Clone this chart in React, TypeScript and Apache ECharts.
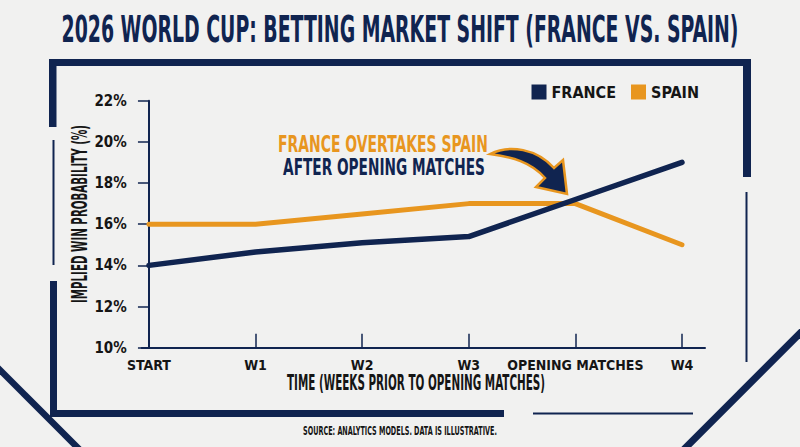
import React, { useEffect, useRef } from "react";
import * as echarts from "echarts";

// ---- data ----
const categories = ["START", "W1", "W2", "W3", "OPENING MATCHES", "W4"];
const franceValues = [14, 14.65, 15.1, 15.4, 17.2, 19];
const spainValues = [16, 16, 16.5, 17, 17, 15];
const yMin = 10;
const yMax = 22;
const yStep = 2;

const TITLE = "2026 WORLD CUP: BETTING MARKET SHIFT (FRANCE VS. SPAIN)";
const Y_TITLE = "IMPLIED WIN PROBABILITY (%)";
const X_TITLE = "TIME (WEEKS PRIOR TO OPENING MATCHES)";
const NOTE_1 = "FRANCE OVERTAKES SPAIN";
const NOTE_2 = "AFTER OPENING MATCHES";
const SOURCE = "SOURCE: ANALYTICS MODELS. DATA IS ILLUSTRATIVE.";

const NAVY = "#102450";
const ORANGE = "#e8961f";
const INK = "#151515";
const BG = "#f1f1f0";
const FAM = "'Liberation Sans Narrow', 'DejaVu Sans Condensed', 'Arial Narrow', sans-serif";

const ARROW_D =
  "M 490 154 C 510 144, 537 149, 554 168 L 563 160 L 567 194 L 536 187 L 545 178 C 531 162, 512 157, 490 154 Z";

let registered = false;

function fit(text: string, font: string, target: number): number {
  const c = document.createElement("canvas");
  const ctx = c.getContext("2d");
  if (!ctx) return 1;
  ctx.font = font;
  const w = ctx.measureText(text).width;
  return w > 0 ? target / w : 1;
}

export default function App() {
  const ref = useRef<HTMLDivElement>(null);
  useEffect(() => {
    if (!ref.current) return;
    document.body.style.margin = "0";
    document.body.style.background = BG;
    if (!registered) {
      echarts.graphic.registerShape("curvedArrow", echarts.graphic.extendPath(ARROW_D, {}));
      registered = true;
    }
    const chart = echarts.init(ref.current, null, { renderer: "svg" });

    const titleFont = `bold 38px ${FAM}`;
    const noteFont = `bold 23px ${FAM}`;
    const axisTitleFont = `bold 21px ${FAM}`;
    const sourceFont = `bold 12px ${FAM}`;

    const txt = (text: string, font: string, x: number, y: number, fill: string, target: number, rotation = 0) => ({
      type: "text",
      x,
      y,
      rotation,
      scaleX: fit(text, font, target),
      silent: true,
      style: {
        text,
        font,
        fill,
        align: "center",
        verticalAlign: "middle",
        textAlign: "center",
        textVerticalAlign: "middle",
      },
    });

    const rect = (x: number, y: number, w: number, h: number) => ({
      type: "rect",
      shape: { x, y, width: w, height: h },
      style: { fill: NAVY },
      silent: true,
    });
    const line = (x1: number, y1: number, x2: number, y2: number, lw: number) => ({
      type: "line",
      shape: { x1, y1, x2, y2 },
      style: { stroke: NAVY, lineWidth: lw },
      silent: true,
    });

    const idx = categories.map((_, i) => i);

    chart.setOption({
      animation: false,
      backgroundColor: BG,
      grid: { left: 141.7, right: 95, top: 100.7, bottom: 99.3, containLabel: false },
      legend: {
        data: ["FRANCE", "SPAIN"],
        icon: "rect",
        itemWidth: 15,
        itemHeight: 15,
        itemGap: 15,
        right: 96,
        top: 79,
        textStyle: { fontFamily: FAM, fontWeight: "bold", fontSize: 16, color: INK },
      },
      xAxis: {
        type: "value",
        min: -0.068,
        max: 5.216,
        splitLine: { show: false },
        axisLine: { show: true, lineStyle: { color: NAVY, width: 2 } },
        axisTick: { show: true, inside: true, length: 14, customValues: idx, lineStyle: { color: NAVY, width: 1.5 } },
        axisLabel: {
          customValues: idx,
          formatter: (v: number) => categories[Math.round(v)] ?? "",
          fontFamily: FAM,
          fontWeight: "bold",
          fontSize: 14,
          color: INK,
          margin: 10,
        },
      },
      yAxis: {
        type: "value",
        min: yMin,
        max: yMax,
        interval: yStep,
        splitLine: { show: false },
        axisLine: { show: true, lineStyle: { color: NAVY, width: 2 } },
        axisTick: { show: true, length: 11, lineStyle: { color: NAVY, width: 1.5 } },
        axisLabel: {
          formatter: (v: number) => `${v}%`,
          fontFamily: FAM,
          fontWeight: "bold",
          fontSize: 15,
          color: INK,
          margin: 15,
        },
      },
      series: [
        {
          name: "SPAIN",
          type: "line",
          data: idx.map((i) => [i, spainValues[i]]),
          showSymbol: false,
          symbol: "none",
          color: ORANGE,
          itemStyle: { color: ORANGE },
          lineStyle: { color: ORANGE, width: 5, cap: "round", join: "round" },
          z: 3,
        },
        {
          name: "FRANCE",
          type: "line",
          data: idx.map((i) => [i, franceValues[i]]),
          showSymbol: false,
          symbol: "none",
          color: NAVY,
          itemStyle: { color: NAVY },
          lineStyle: { color: NAVY, width: 5.5, cap: "round", join: "round" },
          z: 4,
        },
      ],
      graphic: [
        // frame
        rect(49, 59, 702, 7),
        rect(49, 59, 7.5, 68),
        line(53.5, 140, 53.5, 265, 2),
        rect(50, 281, 7, 136),
        rect(50, 410, 454, 7),
        line(533, 413.5, 693, 413.5, 2),
        rect(743, 59, 8, 118),
        line(746.5, 192, 746.5, 362, 2),
        line(-10, 360, 90, 460, 6.5),
        line(810, 323.3, 680, 453.3, 7),
        // texts
        txt(TITLE, titleFont, 400, 29, NAVY, 677),
        txt(NOTE_1, noteFont, 383, 144, ORANGE, 210),
        txt(NOTE_2, noteFont, 384, 167, NAVY, 202),
        txt(Y_TITLE, axisTitleFont, 80, 214, INK, 178, Math.PI / 2),
        txt(X_TITLE, axisTitleFont, 416, 383, INK, 258),
        txt(SOURCE, sourceFont, 400, 431, INK, 194),
        {
          type: "curvedArrow",
          x: 0,
          y: 0,
          scaleX: 1,
          scaleY: 1,
          silent: true,
          style: { fill: NAVY, stroke: ORANGE, lineWidth: 2.5, lineJoin: "miter" },
          z: 10,
        },
      ],
    });
    return () => chart.dispose();
  }, []);
  return (
    <div
      ref={ref}
      style={{ position: "fixed", left: 0, top: 0, width: 800, height: 447, background: BG }}
    />
  );
}
